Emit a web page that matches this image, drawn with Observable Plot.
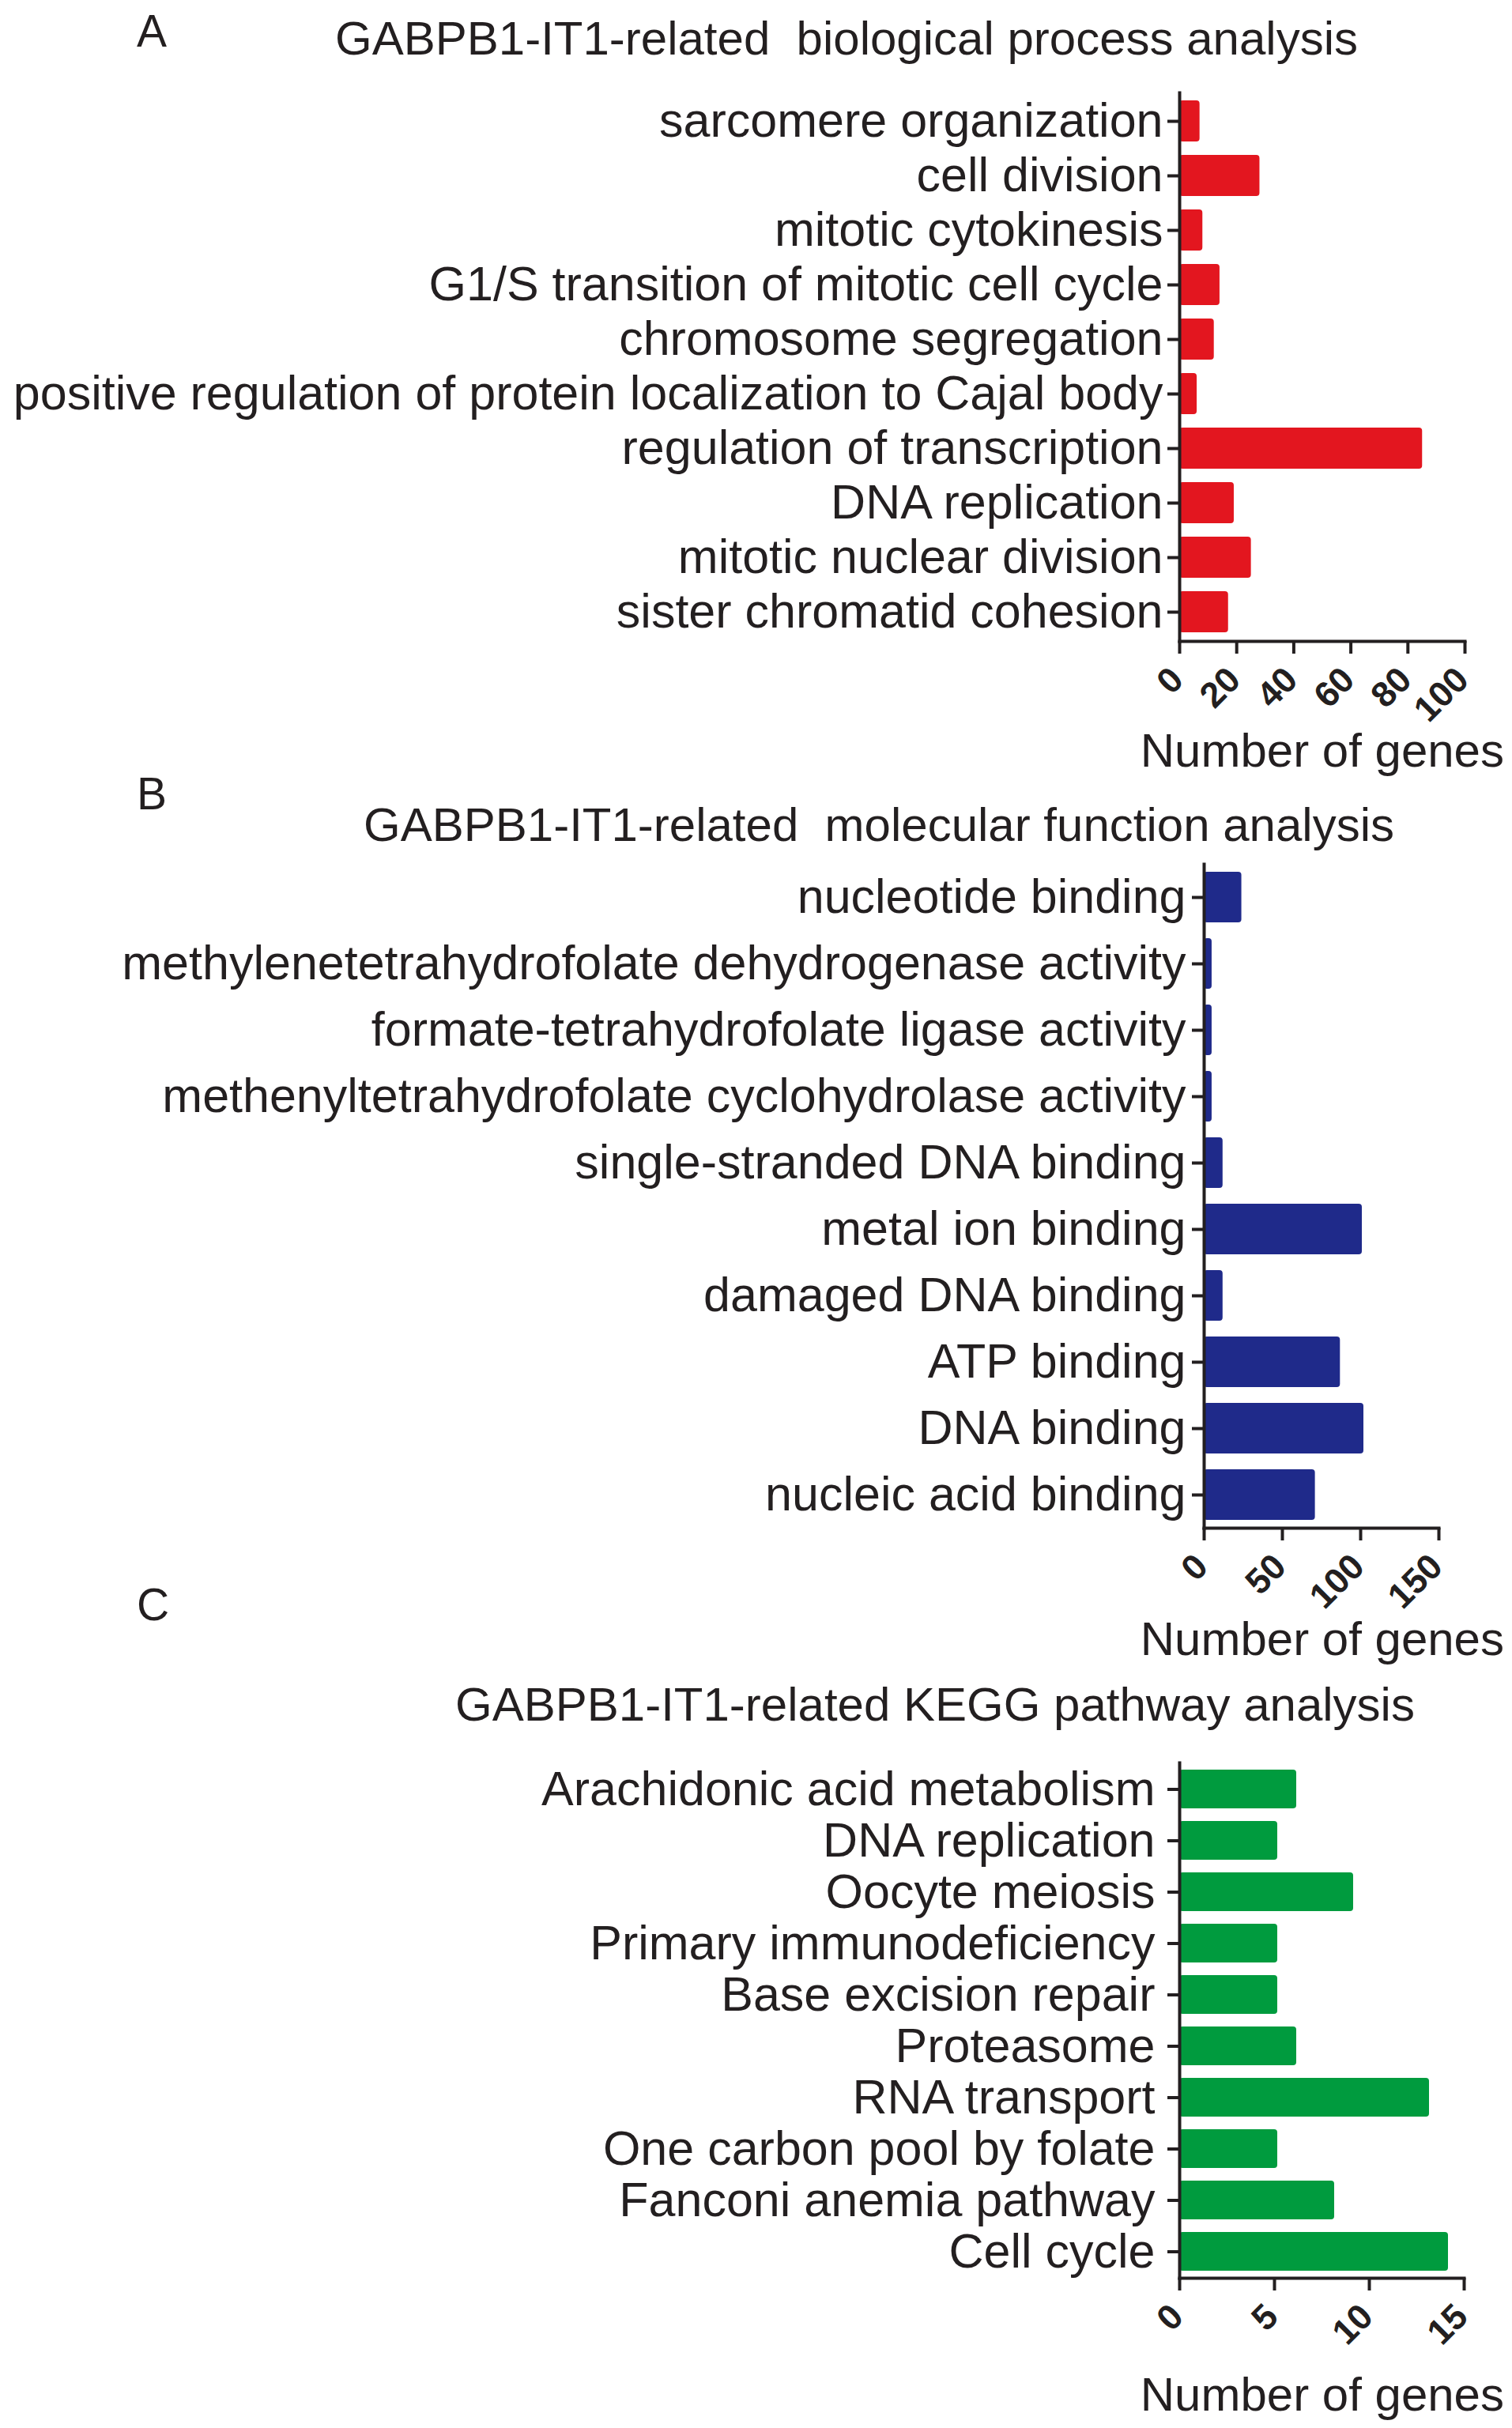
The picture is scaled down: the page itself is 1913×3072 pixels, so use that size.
<!DOCTYPE html>
<html><head><meta charset="utf-8">
<script src="https://cdn.jsdelivr.net/npm/d3@7"></script>
<script src="https://cdn.jsdelivr.net/npm/@observablehq/plot@0.6"></script>
<style>
body{margin:0;background:#fff;}
#page{position:relative;width:1913px;height:3072px;background:#fff;font-family:"Liberation Sans",Arial,sans-serif;color:#231f20;overflow:hidden;}
.t{position:absolute;white-space:pre;line-height:1;}
.panel{position:absolute;left:0;}
.panel svg{max-width:none;}
</style></head><body><div id="page"></div>
<script>
// ---- data ----
const bpTerms = ["sarcomere organization","cell division","mitotic cytokinesis","G1/S transition of mitotic cell cycle","chromosome segregation","positive regulation of protein localization to Cajal body","regulation of transcription","DNA replication","mitotic nuclear division","sister chromatid cohesion"];
const bpCounts = [6,27,7,13,11,5,84,18,24,16];
const bpTicks = [0,20,40,60,80,100];

const mfTerms = ["nucleotide binding","methylenetetrahydrofolate dehydrogenase activity","formate-tetrahydrofolate ligase activity","methenyltetrahydrofolate cyclohydrolase activity","single-stranded DNA binding","metal ion binding","damaged DNA binding","ATP binding","DNA binding","nucleic acid binding"];
const mfCounts = [22,3,3,3,10,99,10,85,100,69];
const mfTicks = [0,50,100,150];

const keggTerms = ["Arachidonic acid metabolism","DNA replication","Oocyte meiosis","Primary immunodeficiency","Base excision repair","Proteasome","RNA transport","One carbon pool by folate","Fanconi anemia pathway","Cell cycle"];
const keggCounts = [6,5,9,5,5,6,13,5,8,14];
const keggTicks = [0,5,10,15];

const panelLetters = ["A","B","C"];
const panelTitles = ["GABPB1-IT1-related  biological process analysis","GABPB1-IT1-related  molecular function analysis","GABPB1-IT1-related KEGG pathway analysis"];
const xLabel = "Number of genes";

const FONT = '"Liberation Sans", Arial, Helvetica, sans-serif';
const INK = "#231f20";
const page = document.getElementById("page");

function text(str, x, baseline, size, anchor) {
  const d = document.createElement("div");
  d.className = "t";
  d.textContent = str;
  d.style.fontSize = size + "px";
  d.style.left = x + "px";
  d.style.top = (baseline - 0.8465 * size) + "px";
  if (anchor === "middle") d.style.transform = "translateX(-50%)";
  if (anchor === "end") d.style.transform = "translateX(-100%)";
  page.appendChild(d);
}

function panel({terms, counts, ticks, color, top, height, mt, mb, ml, mr, pad}) {
  const data = terms.map((t, i) => ({term: t, n: counts[i]}));
  const chart = Plot.plot({
    width: 1913, height,
    marginTop: mt, marginBottom: mb, marginLeft: ml, marginRight: mr,
    style: {fontFamily: FONT, color: INK, background: "transparent", overflow: "visible"},
    x: {domain: [0, ticks[ticks.length - 1]]},
    y: {domain: terms, paddingInner: 0.24, paddingOuter: 0.12},
    marks: [
      Plot.barX(data, {x: "n", y: "term", fill: color, rx: 4, insetRight: -4}),
      Plot.axisY({tickSize: 15, tickPadding: pad, fontSize: 61, strokeWidth: 4, stroke: INK, fill: INK, label: null}),
      // tick marks only
      Plot.axisX({ticks, tickSize: 16, tickFormat: () => "", strokeWidth: 4, stroke: INK, label: null}),
      // rotated tick labels only
      Plot.axisX({ticks, tickSize: 0, tickPadding: 41, dx: -3, tickRotate: -45, fontSize: 45, fontWeight: "bold", fill: INK, label: null}),
      Plot.frame({anchor: "left", stroke: INK, strokeWidth: 4, strokeLinecap: "square"}),
      Plot.frame({anchor: "bottom", stroke: INK, strokeWidth: 4, strokeLinecap: "square"})
    ]
  });
  const wrap = document.createElement("div");
  wrap.className = "panel";
  wrap.style.top = top + "px";
  wrap.appendChild(chart);
  page.appendChild(wrap);
}

panel({terms: bpTerms, counts: bpCounts, ticks: bpTicks, color: "#e3161f", top: 0, height: 1000, mt: 117, mb: 189, ml: 1492, mr: 60, pad: 6});
panel({terms: mfTerms, counts: mfCounts, ticks: mfTicks, color: "#1f2a8a", top: 1000, height: 1100, mt: 93, mb: 167, ml: 1523, mr: 93, pad: 8});
panel({terms: keggTerms, counts: keggCounts, ticks: keggTicks, color: "#009b3e", top: 2100, height: 972, mt: 130, mb: 190, ml: 1492, mr: 61, pad: 16});

text(panelLetters[0], 173, 59, 57, "start");
text(panelTitles[0], 1071, 70, 60, "middle");
text(xLabel, 1903, 971, 60, "end");
text(panelLetters[1], 173, 1024, 57, "start");
text(panelTitles[1], 1112, 1065, 60, "middle");
text(xLabel, 1903, 2095, 60, "end");
text(panelLetters[2], 173, 2050, 57, "start");
text(panelTitles[2], 1183, 2178, 60, "middle");
text(xLabel, 1903, 3051, 60, "end");
</script>
</body></html>
